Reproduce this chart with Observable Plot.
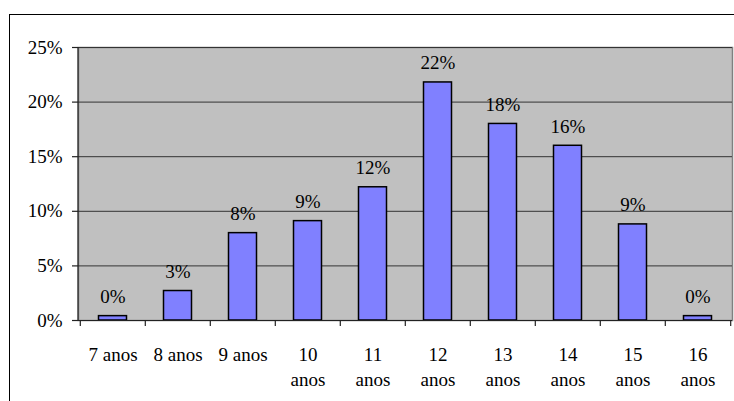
<!DOCTYPE html>
<html>
<head>
<meta charset="utf-8">
<script src="https://cdn.jsdelivr.net/npm/d3@7"></script>
<script src="https://cdn.jsdelivr.net/npm/@observablehq/plot@0.6"></script>
<style>
  html, body { margin: 0; padding: 0; background: #fff; overflow: hidden; width: 734px; height: 401px; }
  #wrap { position: relative; width: 734px; height: 401px; }
  #border { position: absolute; left: 9px; top: 14px; width: 800px; height: 500px; border: 1px solid #000; box-sizing: border-box; }
  #chart { position: absolute; left: 0; top: 0; }
  #chart svg, #chart svg text, #chart svg tspan { font-family: "Liberation Serif", "Times New Roman", serif !important; }
</style>
</head>
<body>
<div id="wrap"><div id="border"></div><div id="chart"></div></div>
<script>
const categories = ["7 anos", "8 anos", "9 anos", "10 anos", "11 anos", "12 anos", "13 anos", "14 anos", "15 anos", "16 anos"];
const values = [0.004, 0.027, 0.080, 0.091, 0.122, 0.218, 0.180, 0.160, 0.088, 0.004];
const valueLabels = ["0%", "3%", "8%", "9%", "12%", "22%", "18%", "16%", "9%", "0%"];
const tickLabels = ["7 anos", "8 anos", "9 anos", "10\nanos", "11\nanos", "12\nanos", "13\nanos", "14\nanos", "15\nanos", "16\nanos"];
const yTicks = [0, 0.05, 0.10, 0.15, 0.20, 0.25];

const data = categories.map((c, i) => ({cat: c, value: values[i], label: valueLabels[i]}));

const W = 734, H = 401;
const mL = 78, mR = 2, mT = 47, mB = 81;
const bw = (W - mL - mR) / categories.length;
const font = "Liberation Serif";
const fs = 19;

const leftLine = (index, scales, values, dims) => {
  const g = d3.create("svg:g");
  g.append("line")
    .attr("x1", dims.marginLeft).attr("x2", dims.marginLeft)
    .attr("y1", dims.marginTop).attr("y2", dims.height - dims.marginBottom + 1)
    .attr("stroke", "#222").attr("stroke-width", 1.2);
  return g.node();
};

const chart = Plot.plot({
  width: W,
  height: H,
  marginLeft: mL,
  marginRight: mR,
  marginTop: mT,
  marginBottom: mB,
  style: {"font-size": fs + "px", color: "#000", background: "transparent"},
  x: {domain: categories, padding: 0, label: null},
  y: {domain: [0, 0.25], label: null},
  marks: [
    Plot.frame({fill: "#C0C0C0", stroke: "#808080", strokeWidth: 1.5}),
    Plot.gridY(yTicks, {stroke: "#333", strokeOpacity: 1, strokeWidth: 1}),
    Plot.barY(data, {x: "cat", y: "value", fill: "#8080FF", stroke: "#000", strokeWidth: 1.5, insetLeft: 18.5, insetRight: 18.5}),
    Plot.ruleY([0], {stroke: "#222", strokeWidth: 1.2}),
    leftLine,
    Plot.axisY({ticks: yTicks, tickFormat: d3.format(".0%"), tickSize: 6, tickPadding: 10, fontSize: fs, fontFamily: font, stroke: "#222", strokeWidth: 1.2, label: null}),
    Plot.axisX({tickSize: 0, tickPadding: 22.5, fontSize: fs, fontFamily: font, lineHeight: 25 / fs, tickFormat: (d) => tickLabels[categories.indexOf(d)], label: null}),
    Plot.axisX({tickSize: 6, text: null, dx: -bw / 2, stroke: "#222", strokeWidth: 1.2, label: null}),
    Plot.axisX({ticks: [categories[categories.length - 1]], tickSize: 6, text: null, dx: bw / 2, stroke: "#222", strokeWidth: 1.2, label: null}),
    Plot.text(data, {x: "cat", y: "value", text: "label", dy: -13, lineAnchor: "bottom", fontSize: fs, fontFamily: font, fill: "#000"})
  ]
});
document.getElementById("chart").appendChild(chart);
</script>
</body>
</html>
